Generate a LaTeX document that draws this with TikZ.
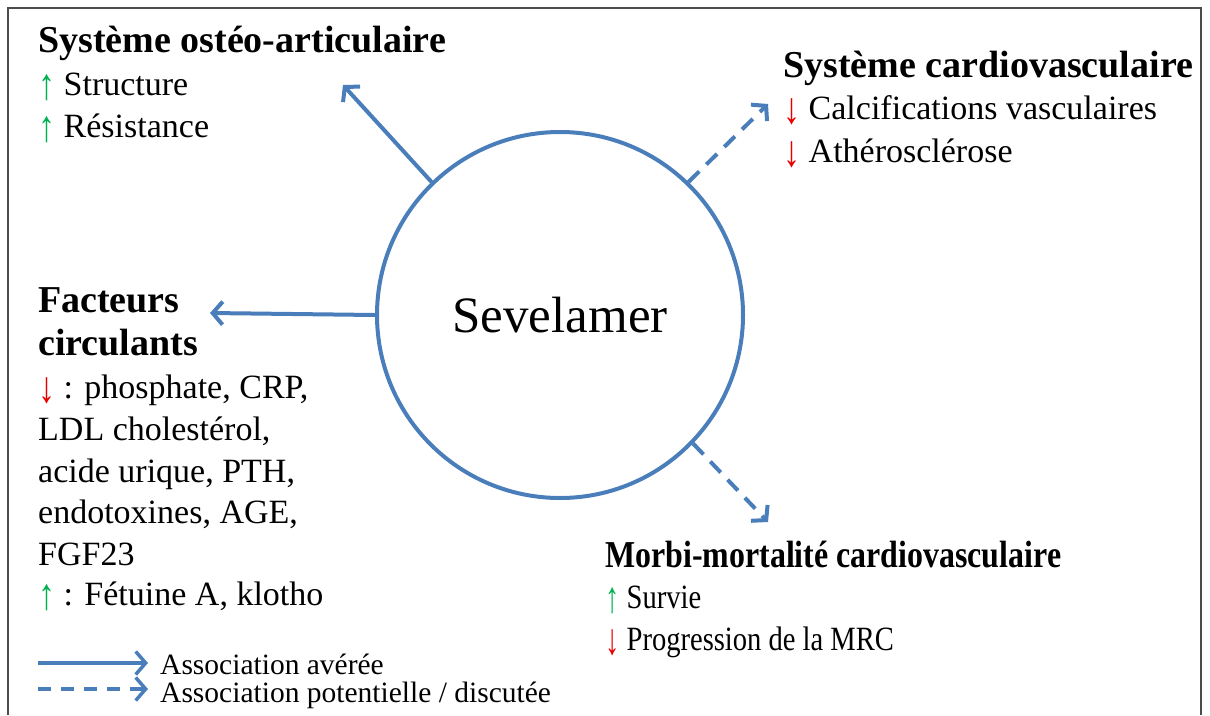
\documentclass[tikz,border=0pt]{standalone}
\usepackage{fontspec}
\setmainfont{Liberation Serif}
\usetikzlibrary{arrows.meta}
\definecolor{assocblue}{RGB}{74,126,187}
\definecolor{upgreen}{RGB}{0,176,80}
\definecolor{downred}{RGB}{232,0,0}
\newcommand{\arrowup}{{\color{upgreen}\raisebox{-4pt}{\scalebox{1}[1.3]{↑}}}}
\newcommand{\arrowdown}{{\color{downred}\raisebox{-4pt}{\scalebox{1}[1.3]{↓}}}}
\tikzset{
  proven/.style={assocblue, line width=4pt, -{Straight Barb[length=10pt,width=23pt]}},
  discussed/.style={proven, dash pattern=on 15pt off 10pt},
  heading/.style={anchor=base west, inner sep=0pt, font=\fontsize{38}{44}\selectfont\bfseries},
  item/.style={anchor=base west, inner sep=0pt, font=\fontsize{34}{42}\selectfont},
  legendtext/.style={anchor=base west, inner sep=0pt, font=\fontsize{29.5}{34}\selectfont},
}
\begin{document}
\begin{tikzpicture}[x=1pt,y=-1pt]
        \useasboundingbox (0,0) rectangle (1210,715);
        % Cadre
        \draw[black!70, line width=2pt] (8,715) -- (8,8) -- (1201,8) -- (1201,715);
        % Sevelamer
        \node[circle, draw=assocblue, line width=4pt, minimum size=366pt, inner sep=0pt,
              font=\fontsize{51}{60}\selectfont] (sev) at (560,315) {Sevelamer};
        % Systeme osteo-articulaire
        \node[heading] (osteo) at (38,52) {Système ostéo-articulaire};
        \node[item] (structure) at (38,95) {\arrowup{} Structure};
        \node[item] (resistance) at (38,137) {\arrowup{} Résistance};
        % Systeme cardiovasculaire
        \node[heading] (cardio) at (783,77) {Système cardiovasculaire};
        \node[item] (calcif) at (783,119) {\arrowdown{} Calcifications vasculaires};
        \node[item] (athero) at (783,162) {\arrowdown{} Athérosclérose};
        % Facteurs circulants
        \node[heading] (facteurs) at (38,312) {Facteurs};
        \node[heading] (circulants) at (38,355) {circulants};
        \node[item] (f1) at (38,398) {\arrowdown{} : phosphate, CRP,};
        \node[item] (f2) at (38,440) {LDL cholestérol,};
        \node[item] (f3) at (38,482) {acide urique, PTH,};
        \node[item] (f4) at (38,523) {endotoxines, AGE,};
        \node[item] (f5) at (38,565) {FGF23};
        \node[item] (f6) at (38,605) {\arrowup{} : Fétuine A, klotho};
        % Morbi-mortalite
        \node[heading] (morbi) at (605,567) {\scalebox{0.84}[1]{Morbi-mortalité cardiovasculaire}};
        \node[item] (survie) at (605,608) {\scalebox{0.84}[1]{\arrowup{} Survie}};
        \node[item] (mrc) at (605,650) {\scalebox{0.84}[1]{\arrowdown{} Progression de la MRC}};
        % Fleches
        \coordinate (tipOsteo) at (343,85);
        \coordinate (tipFact) at (210,313);
        \coordinate (tipCardio) at (768,104);
        \coordinate (tipMorbi) at (768,522);
        \draw[proven] (sev.134) -- (tipOsteo);
        \draw[proven] (sev.180) -- (tipFact);
        \draw[discussed] (sev.46) -- (tipCardio);
        \draw[discussed] (sev.-44) -- (tipMorbi);
        % Legende
        \coordinate (l1a) at (38,663);
        \coordinate (l1b) at (148,663);
        \coordinate (l2a) at (38,689);
        \coordinate (l2b) at (148,689);
        \draw[proven, line width=3.5pt] (l1a) -- (l1b);
        \draw[discussed, line width=3.5pt, dash pattern=on 13pt off 10pt] (l2a) -- (l2b);
        \node[legendtext] (avere) at (160,674) {Association avérée};
        \node[legendtext] (discute) at (160,702) {Association potentielle / discutée};
\end{tikzpicture}
\end{document}
